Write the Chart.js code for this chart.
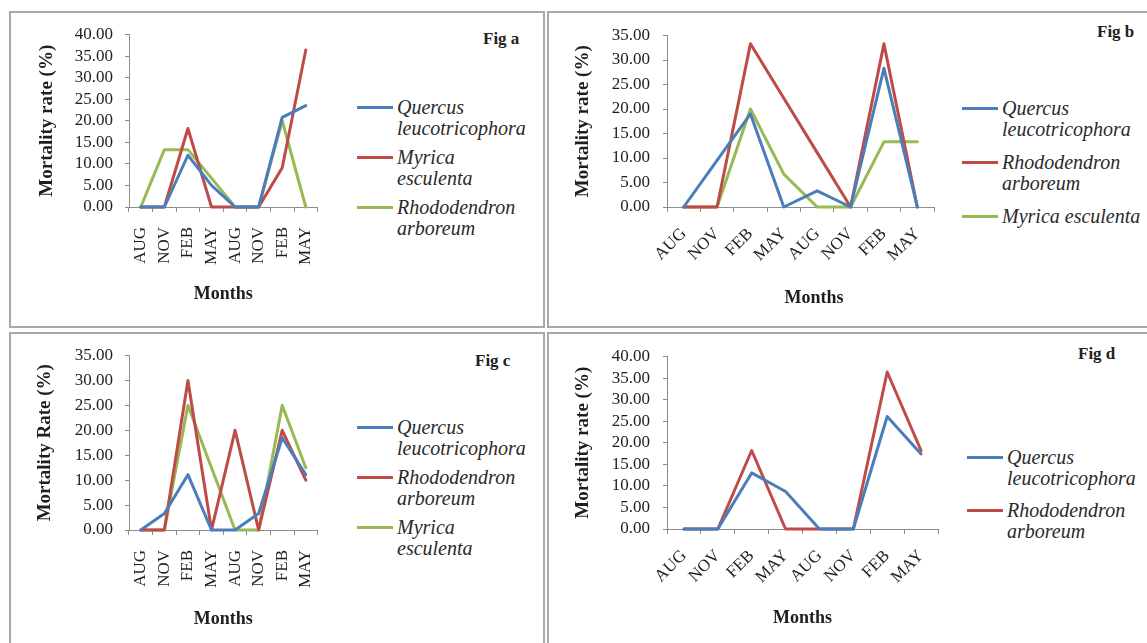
<!DOCTYPE html>
<html>
<head>
<meta charset="utf-8">
<script src="https://cdn.jsdelivr.net/npm/chart.js@4.4.1/dist/chart.umd.min.js"></script>
<style>
  html, body { margin: 0; padding: 0; background: #fff; width: 1147px; height: 643px; overflow: hidden; font-family: 'Liberation Serif', serif; }
  .panel { position: absolute; border: 2px solid #a8a8a8; box-sizing: border-box; }
  canvas { position: absolute; }
  .fig { position: absolute; font-weight: bold; font-size: 17px; line-height: 20px; color: #222; }
  .legend { position: absolute; font-style: italic; font-size: 20px; line-height: 21px; color: #2a2a2a; }
  .legend .item { display: flex; align-items: flex-start; }
  .legend .sw { width: 36px; height: 3px; margin-top: 9px; margin-right: 4px; flex: none; }
  .legend .txt { white-space: pre; }
</style>
</head>
<body>
<div class="panel" style="left:9px;top:11px;width:536px;height:317px"></div>
<div class="panel" style="left:547px;top:11px;width:620px;height:317px"></div>
<div class="panel" style="left:9px;top:332px;width:536px;height:330px"></div>
<div class="panel" style="left:547px;top:332px;width:620px;height:330px"></div>

<canvas id="figA" width="330" height="300" style="left:12px;top:14px"></canvas>
<canvas id="figB" width="390" height="300" style="left:560px;top:14px"></canvas>
<canvas id="figC" width="330" height="300" style="left:12px;top:335px"></canvas>
<canvas id="figD" width="390" height="300" style="left:560px;top:335px"></canvas>

<div class="fig" style="left:483px;top:29px">Fig a</div>
<div class="fig" style="left:1097px;top:22px">Fig b</div>
<div class="fig" style="left:475px;top:351px">Fig c</div>
<div class="fig" style="left:1078px;top:344px">Fig d</div>

<div class="legend" id="legA" style="left:357px;top:97px"></div>
<div class="legend" id="legB" style="left:962px;top:98px"></div>
<div class="legend" id="legC" style="left:357px;top:417px"></div>
<div class="legend" id="legD" style="left:967px;top:447px"></div>

<script>
const MONTHS = ['AUG', 'NOV', 'FEB', 'MAY', 'AUG', 'NOV', 'FEB', 'MAY'];

// Fig a
const A_QUERCUS = [0, 0, 12, 5, 0, 0, 20.8, 23.5];
const A_MYRICA  = [0, 0, 18.2, 0, 0, 0, 9.1, 36.4];
const A_RHODO   = [0, 13.3, 13.3, 6.7, 0, 0, 20, 0];
// Fig b
const B_QUERCUS = [0, 9.5, 19, 0, 3.3, 0, 28.3, 0];
const B_RHODO   = [0, 0, 33.3, 22.2, 11.1, 0, 33.3, 0];
const B_MYRICA  = [0, 0, 20, 6.7, 0, 0, 13.3, 13.3];
// Fig c
const C_QUERCUS = [0, 3.3, 11.1, 0, 0, 3.3, 18.5, 11.1];
const C_RHODO   = [0, 0, 30, 0, 20, 0, 20, 10];
const C_MYRICA  = [0, 0, 25, 12.5, 0, 0, 25, 12.5];
// Fig d
const D_QUERCUS = [0, 0, 13, 8.7, 0, 0, 26.1, 17.4];
const D_RHODO   = [0, 0, 18.2, 0, 0, 0, 36.4, 18.2];

const BLUE = '#4a7ebb', RED = '#be4b48', GREEN = '#98b954';
const AXIS = '#8c8c8c', TXT = '#1e1e1e', SERIF = "'Liberation Serif', serif";
Chart.defaults.font.family = SERIF;

function makePanel(id, cfg) {
  return new Chart(document.getElementById(id), {
    type: 'line',
    data: {
      labels: MONTHS,
      datasets: cfg.series.map(s => ({
        label: s.name, data: s.data, borderColor: s.color, backgroundColor: s.color,
        borderWidth: 3, pointRadius: 0, tension: 0, clip: false,
        borderJoinStyle: 'round', borderCapStyle: 'round'
      }))
    },
    options: {
      responsive: false, animation: false,
      layout: { padding: cfg.pad },
      plugins: { legend: { display: false }, tooltip: { enabled: false } },
      scales: {
        x: {
          offset: true,
          grid: { offset: true, drawOnChartArea: false, tickLength: 5, color: AXIS },
          border: { color: AXIS },
          ticks: { autoSkip: false, minRotation: cfg.rot, maxRotation: cfg.rot, padding: cfg.xTickPad, color: TXT, font: { family: SERIF, size: 17 } },
          title: { display: true, text: cfg.xTitle || 'Months', color: TXT, font: { family: SERIF, size: 18, weight: 'bold' }, padding: { top: 0, bottom: cfg.xTitlePad } },
          afterFit: s => { s.height = cfg.xH; }
        },
        y: {
          min: 0, max: cfg.yMax,
          grid: { drawOnChartArea: false, tickLength: 4, color: AXIS },
          border: { color: AXIS },
          ticks: { autoSkip: false, stepSize: 5, padding: cfg.yTickPad, color: TXT, font: { family: SERIF, size: 17, lineHeight: 1 }, callback: v => v.toFixed(2) },
          title: { display: true, text: cfg.yTitle, color: TXT, font: { family: SERIF, size: 19, weight: 'bold' }, padding: { top: cfg.yTitlePad, bottom: 0 } },
          afterFit: s => { s.width = cfg.yW; }
        }
      }
    }
  });
}

function buildLegend(id, chart, gap) {
  const el = document.getElementById(id);
  chart.data.datasets.forEach((ds, i) => {
    const item = document.createElement('div');
    item.className = 'item';
    if (i < chart.data.datasets.length - 1) item.style.marginBottom = gap + 'px';
    const sw = document.createElement('div');
    sw.className = 'sw';
    sw.style.background = ds.borderColor;
    const txt = document.createElement('div');
    txt.className = 'txt';
    txt.textContent = ds.label;
    item.appendChild(sw); item.appendChild(txt);
    el.appendChild(item);
  });
}

const chartA = makePanel('figA', {
  series: [
    { name: 'Quercus\nleucotricophora', data: A_QUERCUS, color: BLUE },
    { name: 'Myrica\nesculenta', data: A_MYRICA, color: RED },
    { name: 'Rhododendron\narboreum', data: A_RHODO, color: GREEN }
  ],
  yMax: 40, yTitle: 'Mortality rate (%)', rot: 90,
  pad: { top: 20, right: 13, left: 0, bottom: 0 }, yW: 117, xH: 107,
  yTitlePad: 24, xTitlePad: 9, xTickPad: 15, yTickPad: 12
});
const chartB = makePanel('figB', {
  series: [
    { name: 'Quercus\nleucotricophora', data: B_QUERCUS, color: BLUE },
    { name: 'Rhododendron\narboreum', data: B_RHODO, color: RED },
    { name: 'Myrica esculenta', data: B_MYRICA, color: GREEN }
  ],
  yMax: 35, yTitle: 'Mortality rate (%)', rot: 45, xTitle: '\u2002\u2002\u2002Months',
  pad: { top: 20, right: 16, left: 0, bottom: 0 }, yW: 107, xH: 107,
  yTitlePad: 12, xTitlePad: 5, xTickPad: 12, yTickPad: 13
});
const chartC = makePanel('figC', {
  series: [
    { name: 'Quercus\nleucotricophora', data: C_QUERCUS, color: BLUE },
    { name: 'Rhododendron\narboreum', data: C_RHODO, color: RED },
    { name: 'Myrica\nesculenta', data: C_MYRICA, color: GREEN }
  ],
  yMax: 35, yTitle: 'Mortality Rate (%)', rot: 90,
  pad: { top: 20, right: 13, left: 0, bottom: 0 }, yW: 117, xH: 105,
  yTitlePad: 22, xTitlePad: 5, xTickPad: 15, yTickPad: 12
});
const chartD = makePanel('figD', {
  series: [
    { name: 'Quercus\nleucotricophora', data: D_QUERCUS, color: BLUE },
    { name: 'Rhododendron\narboreum', data: D_RHODO, color: RED }
  ],
  yMax: 40, yTitle: 'Mortality rate (%)', rot: 45,
  pad: { top: 21, right: 12, left: 0, bottom: 0 }, yW: 107, xH: 106,
  yTitlePad: 12, xTitlePad: 6, xTickPad: 12, yTickPad: 13
});

buildLegend('legA', chartA, 8);
buildLegend('legB', chartB, 12);
buildLegend('legC', chartC, 8);
buildLegend('legD', chartD, 11);
</script>
</body>
</html>
